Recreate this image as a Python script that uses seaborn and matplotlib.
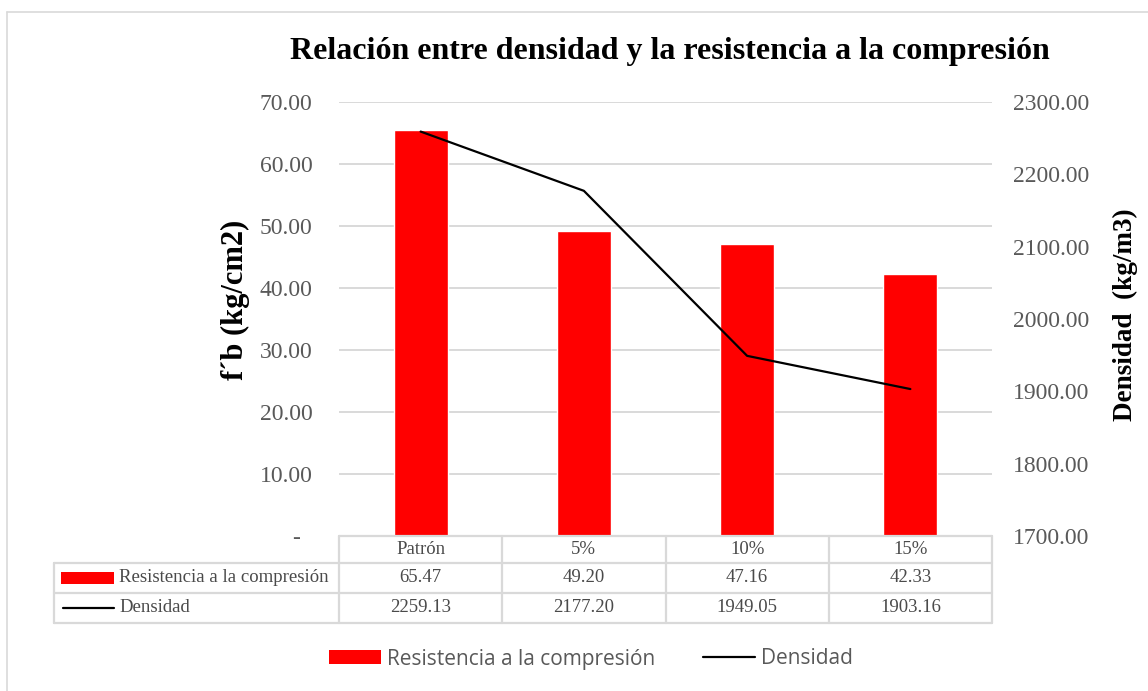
import numpy as np
import matplotlib
matplotlib.use("Agg")
import matplotlib.pyplot as plt
from matplotlib.lines import Line2D
from matplotlib.patches import Rectangle
from matplotlib.ticker import FixedLocator, FuncFormatter
import seaborn as sns

# Data
categorias = ["Patrón", "5%", "10%", "15%"]
resistencia = [65.47, 49.20, 47.16, 42.33]
densidad = [2259.13, 2177.20, 1949.05, 1903.16]
serie_barras = "Resistencia a la compresión"
serie_linea = "Densidad"
titulo = "Relación entre densidad y la resistencia a la compresión"
etiqueta_izq = "f´b (kg/cm2)"
etiqueta_der = "Densidad  (kg/m3)"

sns.set_theme(style="white")
plt.rcParams["font.family"] = ["Liberation Serif", "DejaVu Serif"]

W, H = 1148, 691
fig = plt.figure(figsize=(W / 100, H / 100), dpi=100)

# Plot area in pixels (left, top, right, bottom)
L, T, R, B = 339, 102, 992, 536
ax = fig.add_axes([L / W, 1 - B / H, (R - L) / W, (B - T) / H])

GRAY_TXT = "#595959"
GRID = "#d9d9d9"
RED = "#FF0000"
TICK_FS = 17

sns.barplot(x=categorias, y=resistencia, color=RED, saturation=1, width=0.33,
            ax=ax, zorder=3)
ax.set_xlim(-0.5, len(categorias) - 0.5)
ax.set_ylim(0, 70)
ax.yaxis.set_major_locator(FixedLocator(np.arange(0, 71, 10)))
ax.yaxis.set_major_formatter(FuncFormatter(lambda v, p: "-  " if v == 0 else f"{v:.2f}"))
ax.grid(axis="y", color=GRID, lw=1.4, zorder=0)
ax.set_axisbelow(True)
ax.tick_params(axis="y", colors=GRAY_TXT, labelsize=TICK_FS, length=0, pad=19)
ax.tick_params(axis="x", length=0, labelbottom=False)
ax.set_xlabel("")
ax.set_ylabel(etiqueta_izq, fontsize=22, fontweight="bold", color="black")
ax.yaxis.set_label_coords(-0.137, 0.544)
for s in ax.spines.values():
    s.set_visible(False)

ax2 = ax.twinx()
sns.lineplot(x=np.arange(len(categorias)), y=densidad, color="black", lw=1.6,
             ax=ax2, zorder=4)
ax2.set_ylim(1700, 2300)
ax2.yaxis.set_major_locator(FixedLocator(np.arange(1700, 2301, 100)))
ax2.yaxis.set_major_formatter(FuncFormatter(lambda v, p: f"{v:.2f}"))
ax2.tick_params(axis="y", colors=GRAY_TXT, labelsize=TICK_FS, length=0, pad=15)
ax2.set_ylabel(etiqueta_der, fontsize=19.5, fontweight="bold", color="black")
ax2.yaxis.set_label_coords(1.185, 0.509)
for s in ax2.spines.values():
    s.set_visible(False)
ax2.grid(False)

# Title
fig.text(670 / W, 1 - 51 / H, titulo, ha="center", va="center",
         fontsize=23, fontweight="bold", color="black")

# Data table under the plot area
def py(p):
    return 1 - p / H

def px(p):
    return p / W

row_y = [536, 563, 593, 623]
label_left = 54
col_edges = [L + (R - L) * i / len(categorias) for i in range(len(categorias) + 1)]
tbl_kw = dict(color=GRID, lw=1.6, transform=fig.transFigure, zorder=1)

# horizontal lines
fig.add_artist(Line2D([px(L), px(R)], [py(row_y[0])] * 2, **tbl_kw))
for yv in row_y[1:]:
    fig.add_artist(Line2D([px(label_left), px(R)], [py(yv)] * 2, **tbl_kw))
# vertical lines
for xv in col_edges:
    fig.add_artist(Line2D([px(xv)] * 2, [py(row_y[0]), py(row_y[-1])], **tbl_kw))
fig.add_artist(Line2D([px(label_left)] * 2, [py(row_y[1]), py(row_y[-1])], **tbl_kw))

TBL_TXT = "#4a4a4a"
tbl_fs = 13.5
for i, cat in enumerate(categorias):
    cx = (col_edges[i] + col_edges[i + 1]) / 2
    fig.text(px(cx), py((row_y[0] + row_y[1]) / 2), cat, ha="center", va="center",
             fontsize=tbl_fs, color=TBL_TXT)
    fig.text(px(cx), py((row_y[1] + row_y[2]) / 2), f"{resistencia[i]:.2f}",
             ha="center", va="center", fontsize=tbl_fs, color=TBL_TXT)
    fig.text(px(cx), py((row_y[2] + row_y[3]) / 2), f"{densidad[i]:.2f}",
             ha="center", va="center", fontsize=tbl_fs, color=TBL_TXT)

# row labels with legend keys
r1c = (row_y[1] + row_y[2]) / 2
r2c = (row_y[2] + row_y[3]) / 2
fig.add_artist(Rectangle((px(61), py(r1c + 6)), px(114) - px(61), 12 / H,
                         transform=fig.transFigure, color=RED, lw=0))
fig.add_artist(Line2D([px(63), px(114)], [py(r2c)] * 2, color="black", lw=1.6,
                      transform=fig.transFigure))
fig.text(px(119), py(r1c), serie_barras, ha="left", va="center", fontsize=tbl_fs,
         color=TBL_TXT)
fig.text(px(119), py(r2c), serie_linea, ha="left", va="center", fontsize=tbl_fs,
         color=TBL_TXT)

# Legend
handles = [Rectangle((0, 0), 1, 1, color=RED, lw=0),
           Line2D([0], [0], color="black", lw=1.6)]
fig.legend(handles, [serie_barras, serie_linea], loc="center",
           bbox_to_anchor=(591 / W, 1 - 659 / H), ncol=2, frameon=False,
           prop={"family": "Open Sans", "size": 15}, labelcolor=GRAY_TXT,
           handlelength=2.5, handleheight=0.65, handletextpad=0.3, columnspacing=2.3)

# Chart border
bkw = dict(color="#d9d9d9", lw=1.2, transform=fig.transFigure)
fig.add_artist(Line2D([px(7), 1], [py(12)] * 2, **bkw))
fig.add_artist(Line2D([px(7)] * 2, [0, py(12)], **bkw))

fig.savefig("out.png", dpi=100)
